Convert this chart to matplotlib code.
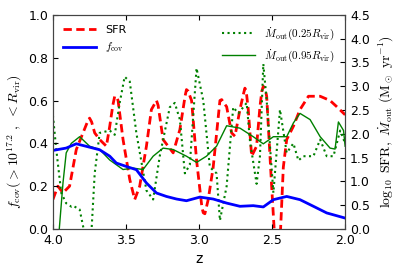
import matplotlib
matplotlib.use("Agg")
import matplotlib.pyplot as plt
import numpy as np

plt.rcParams["mathtext.fontset"] = "cm"
plt.rcParams["font.size"] = 8

# covering fraction (left axis)
z_fcov = [4.0, 3.909, 3.84, 3.771, 3.68, 3.611, 3.566, 3.497, 3.429, 3.36, 3.291,
          3.223, 3.154, 3.086, 2.994, 2.903, 2.811, 2.72, 2.629, 2.56, 2.491,
          2.4, 2.309, 2.217, 2.126, 2.0]
fcov = [0.367, 0.378, 0.398, 0.386, 0.37, 0.34, 0.308, 0.292, 0.277, 0.215, 0.168,
        0.152, 0.14, 0.132, 0.149, 0.14, 0.121, 0.106, 0.109, 0.103, 0.137,
        0.152, 0.137, 0.106, 0.075, 0.051]

# log10 SFR (right axis)
z_sfr = [4.0, 3.966, 3.931, 3.886, 3.84, 3.794, 3.76, 3.749, 3.735, 3.714, 3.68,
         3.634, 3.611, 3.59, 3.577, 3.565, 3.554, 3.52, 3.474, 3.44, 3.406,
         3.36, 3.326, 3.30, 3.291, 3.28, 3.246, 3.177, 3.131, 3.095, 3.086,
         3.075, 3.051, 3.017, 2.98, 2.971, 2.96, 2.937, 2.903, 2.857, 2.845,
         2.83, 2.811, 2.777, 2.754, 2.72, 2.695, 2.686, 2.677, 2.663, 2.64,
         2.606, 2.583, 2.57, 2.56, 2.548, 2.537, 2.503, 2.48, 2.446, 2.423,
         2.4, 2.354, 2.309, 2.251, 2.171, 2.103, 2.057, 2.0]
sfr = [0.62, 0.9, 0.76, 0.9, 1.67, 2.02, 2.28, 2.33, 2.25, 2.02, 1.88,
       1.74, 2.16, 2.6, 2.79, 2.78, 2.7, 1.88, 1.04, 0.62, 0.9,
       1.74, 2.51, 2.65, 2.7, 2.6, 1.88, 1.6, 2.09, 2.8, 2.93,
       2.9, 2.7, 1.45, 0.45, 0.34, 0.32, 0.62, 1.3, 2.7, 2.72,
       2.65, 2.57, 2.02, 1.95, 2.51, 2.85, 2.96, 2.9, 2.51, 1.53,
       1.74, 2.57, 2.9, 3.0, 2.95, 2.79, 0.9, -0.3, -0.3, 1.3,
       1.88, 2.16, 2.51, 2.79, 2.79, 2.7, 2.57, 2.4]

# Mdot_out at 0.25 Rvir (right axis)
z_m25 = [4.0, 3.977, 3.943, 3.909, 3.874, 3.863, 3.817, 3.783, 3.737, 3.714, 3.68,
         3.611, 3.577, 3.543, 3.509, 3.474, 3.429, 3.36, 3.314, 3.269, 3.2,
         3.166, 3.131, 3.097, 3.063, 3.017, 2.971, 2.926, 2.88, 2.857, 2.811,
         2.766, 2.731, 2.674, 2.651, 2.606, 2.583, 2.56, 2.537, 2.491, 2.446,
         2.4, 2.354, 2.32, 2.286, 2.217, 2.171, 2.126, 2.08, 2.034, 2.0]
m25 = [2.39, 1.67, 0.76, 0.54, 0.47, 0.49, 0.41, -0.1, -0.1, 1.17, 2.02,
       2.07, 1.98, 2.65, 3.2, 3.1, 2.02, 0.81, 0.62, 1.53, 2.56,
       2.65, 2.3, 1.17, 1.35, 3.38, 2.7, 1.3, 1.17, 0.18, 0.9,
       2.56, 2.43, 2.65, 1.84, 0.95, 1.53, 3.47, 2.7, 0.76, 2.51,
       1.6, 1.8, 1.44, 1.53, 1.53, 1.88, 1.53, 1.53, 2.07, 1.8]

# Mdot_out at 0.95 Rvir (right axis)
z_m95 = [3.959, 3.931, 3.909, 3.874, 3.817, 3.749, 3.68, 3.611, 3.52, 3.451,
         3.383, 3.314, 3.246, 3.177, 3.086, 3.017, 2.949, 2.88, 2.811, 2.72,
         2.629, 2.56, 2.491, 2.4, 2.354, 2.309, 2.24, 2.171, 2.103, 2.069,
         2.046, 2.011, 2.0]
m95 = [-0.1, 0.97, 1.6, 1.8, 1.94, 1.74, 1.67, 1.45, 1.25, 1.28,
       1.25, 1.53, 1.7, 1.67, 1.53, 1.4, 1.53, 1.74, 2.17, 2.12,
       1.94, 1.79, 1.94, 1.94, 2.23, 2.43, 2.3, 1.94, 1.7, 1.68,
       2.25, 2.07, 1.74]

fig = plt.figure(figsize=(4.07, 2.71), dpi=100)
ax = fig.add_axes([0.130, 0.155, 0.718, 0.79])
ax2 = ax.twinx()

l_sfr, = ax2.plot(z_sfr, sfr, "r--", lw=2, dashes=(3, 1.6))
l_m25, = ax2.plot(z_m25, m25, color="g", ls=":", lw=1.5)
l_m95, = ax2.plot(z_m95, m95, color="g", ls="-", lw=1)
l_fcov, = ax.plot(z_fcov, fcov, "b-", lw=2)
ax.set_zorder(ax2.get_zorder() + 1)
ax.patch.set_visible(False)

ax.set_xlim(4.0, 2.0)
ax.set_ylim(0, 1.0)
ax2.set_ylim(0, 4.5)
ax.set_xticks([4.0, 3.5, 3.0, 2.5, 2.0])
ax.set_yticks(np.arange(0, 1.01, 0.2))
ax2.set_yticks(np.arange(0, 4.51, 0.5))
ax.tick_params(direction="in", top=True, labelsize=9)
ax2.tick_params(direction="in", labelsize=9)
for a in (ax, ax2):
    for s in a.spines.values():
        s.set_color("#444444")

ax.set_xlabel("z", fontsize=10)
ax.set_ylabel(r"$f_{\rm cov}(>10^{17.2}\ ,\ <R_{\rm vir})$", fontsize=10)
ax.yaxis.set_label_coords(-0.1, 0.41)
ax2.set_ylabel(r"$\log_{10}\ {\rm SFR},\ \dot{M}_{\rm out}\ ({\rm M}_\odot\ {\rm yr}^{-1})$",
               fontsize=10, labelpad=4)

leg1 = ax.legend([l_sfr, l_fcov], ["SFR", r"$f_{\rm cov}$"], loc="upper left",
                 frameon=False, fontsize=8, handlelength=3)
ax.add_artist(leg1)
ax.legend([l_m25, l_m95], [r"$\dot{M}_{\rm out}(0.25R_{\rm vir})$",
                           r"$\dot{M}_{\rm out}(0.95R_{\rm vir})$"],
          loc="upper right", frameon=False, fontsize=8, handlelength=3)

fig.savefig("out.png", dpi=100)
